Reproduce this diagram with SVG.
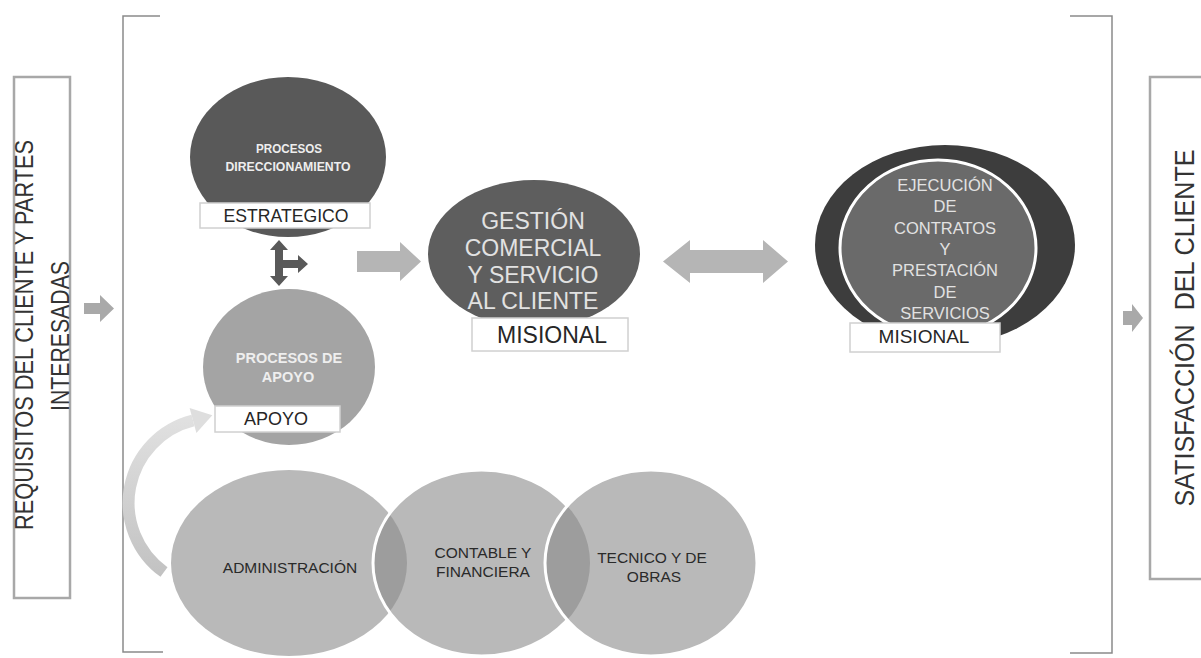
<svg xmlns="http://www.w3.org/2000/svg" width="1201" height="658" viewBox="0 0 1201 658">
<defs>
<style>
text { font-family: "Liberation Sans", Arial, sans-serif; }
.frame { fill: #ffffff; stroke: #a8a8a8; stroke-width: 2.5; }
.bracket { fill: none; stroke: #8a8a8a; stroke-width: 1.5; }
.lbox { fill: #ffffff; stroke: #d0d0d0; stroke-width: 1.5; }
.lbl { fill: #262626; text-anchor: middle; }
.light { fill: #e2e2e2; text-anchor: middle; }
.pale { fill: #eeeeee; text-anchor: middle; font-weight: bold; }
.side { fill: #333333; text-anchor: middle; }
.venn-t { fill: #2a2a2a; text-anchor: middle; font-size: 15.5px; }
.arr-light { fill: #b5b5b5; }
.arr-side { fill: #a9a9a9; }
.arr-dark { fill: #595959; }
.venn { fill: #b9b9b9; }
.lens { fill: #9d9d9d; }
.wstroke { fill: none; stroke: #ffffff; stroke-width: 3; }
</style>
<clipPath id="clipC1"><ellipse cx="289" cy="563" rx="118" ry="93"/></clipPath>
<clipPath id="clipC2"><ellipse cx="481.5" cy="563" rx="108.5" ry="93"/></clipPath>
<linearGradient id="curveGrad" gradientUnits="userSpaceOnUse" x1="0" y1="575" x2="0" y2="410">
<stop offset="0" stop-color="#c2c2c2"/>
<stop offset="1" stop-color="#e2e2e2"/>
</linearGradient>
</defs>

<g id="frames">
<path class="bracket" d="M160,16 H123 V652 H163"/>
<path class="bracket" d="M1070,16 H1112 V653 H1070"/>
</g>

<g id="requisitos">
<rect class="frame" x="14" y="77" width="56" height="521"/>
<text class="side" font-size="26" transform="translate(33,335) rotate(-90)" textLength="390" lengthAdjust="spacingAndGlyphs">REQUISITOS DEL CLIENTE Y PARTES</text>
<text class="side" font-size="26" transform="translate(69,336) rotate(-90)" textLength="150" lengthAdjust="spacingAndGlyphs">INTERESADAS</text>
</g>

<g id="satisfaccion">
<rect class="frame" x="1150" y="77" width="70" height="502"/>
<text class="side" font-size="28" xml:space="preserve" transform="translate(1194,328) rotate(-90)" textLength="357" lengthAdjust="spacingAndGlyphs">SATISFACCIÓN  DEL CLIENTE</text>
</g>

<g id="connectors">
<polygon class="arr-side" points="84,303 100,303 100,295 114,308.5 100,322 100,314 84,314"/>
<polygon class="arr-side" points="1123,311 1132,311 1132,304 1143,318 1132,332 1132,325 1123,325"/>
<polygon class="arr-dark" points="279,240 288,250 283,250 283,260 298,260 298,255 308,264 298,273 298,268 283,268 283,276 288,276 279,286 270,276 275,276 275,250 270,250"/>
<polygon class="arr-light" points="357,251 400,251 400,242 421,261.5 400,281 400,272 357,272"/>
<polygon class="arr-light" points="663,261.5 690,240 690,250 763,250 763,240 788,261.5 763,283 763,273 690,273 690,283"/>
<path d="M164,572 A85,85 0 0 1 193,420.5" fill="none" stroke="url(#curveGrad)" stroke-width="12"/>
<polygon fill="#dedede" points="189.6,407.9 212.3,415.3 196.4,433.1"/>
</g>

<g id="estrategico">
<ellipse cx="288" cy="157" rx="98" ry="80" fill="#595959"/>
<text class="pale" font-size="12" x="289" y="153" fill="#d9d9d9" textLength="66" lengthAdjust="spacingAndGlyphs">PROCESOS</text>
<text class="pale" font-size="12" x="288" y="171" textLength="125" lengthAdjust="spacingAndGlyphs">DIRECCIONAMIENTO</text>
<rect class="lbox" x="200" y="203" width="170" height="25"/>
<text class="lbl" font-size="18.5" x="286" y="222" textLength="125" lengthAdjust="spacingAndGlyphs">ESTRATEGICO</text>
</g>

<g id="apoyo">
<ellipse cx="289" cy="367" rx="86" ry="78" fill="#a4a4a4"/>
<text class="pale" font-size="14.5" x="289" y="363">PROCESOS DE</text>
<text class="pale" font-size="14.5" x="288" y="382">APOYO</text>
<rect class="lbox" x="215" y="406" width="125" height="26"/>
<text class="lbl" font-size="18" x="276" y="425">APOYO</text>
</g>

<g id="gestion">
<ellipse cx="534" cy="254" rx="106" ry="74" fill="#5e5e5e"/>
<text class="light" font-size="23" x="533" y="229">GESTIÓN</text>
<text class="light" font-size="23" x="533" y="256">COMERCIAL</text>
<text class="light" font-size="23" x="533" y="283">Y SERVICIO</text>
<text class="light" font-size="23" x="533" y="309">AL CLIENTE</text>
<rect class="lbox" x="472" y="318" width="156" height="33"/>
<text class="lbl" font-size="23" x="552" y="343">MISIONAL</text>
</g>

<g id="ejecucion">
<ellipse cx="945" cy="245" rx="130" ry="100" fill="#3d3d3d"/>
<ellipse cx="938" cy="248" rx="98" ry="88" fill="#6a6a6a" stroke="#ffffff" stroke-width="3"/>
<text class="light" font-size="16.5" x="945" y="191">EJECUCIÓN</text>
<text class="light" font-size="16.5" x="945" y="212.3">DE</text>
<text class="light" font-size="16.5" x="945" y="233.7">CONTRATOS</text>
<text class="light" font-size="16.5" x="945" y="255">Y</text>
<text class="light" font-size="16.5" x="945" y="276.3">PRESTACIÓN</text>
<text class="light" font-size="16.5" x="945" y="297.7">DE</text>
<text class="light" font-size="16.5" x="945" y="319">SERVICIOS</text>
<rect class="lbox" x="850" y="323" width="150" height="29"/>
<text class="lbl" font-size="19" x="924" y="343">MISIONAL</text>
</g>

<g id="administracion">
<ellipse class="venn" cx="289" cy="563" rx="118" ry="93"/>
</g>
<g id="contable">
<ellipse class="venn" cx="481.5" cy="563" rx="108.5" ry="93"/>
<ellipse class="lens" cx="481.5" cy="563" rx="108.5" ry="93" clip-path="url(#clipC1)"/>
<ellipse class="wstroke" cx="481.5" cy="563" rx="108.5" ry="93"/>
</g>
<g id="tecnico">
<ellipse class="venn" cx="651" cy="563" rx="106" ry="93"/>
<ellipse class="lens" cx="651" cy="563" rx="106" ry="93" clip-path="url(#clipC2)"/>
<ellipse class="wstroke" cx="651" cy="563" rx="106" ry="93"/>
</g>
<g id="venn-labels">
<text class="venn-t" x="290" y="573">ADMINISTRACIÓN</text>
<text class="venn-t" x="483" y="558">CONTABLE Y</text>
<text class="venn-t" x="483" y="577">FINANCIERA</text>
<text class="venn-t" x="652" y="563">TECNICO Y DE</text>
<text class="venn-t" x="654" y="582">OBRAS</text>
</g>
</svg>
